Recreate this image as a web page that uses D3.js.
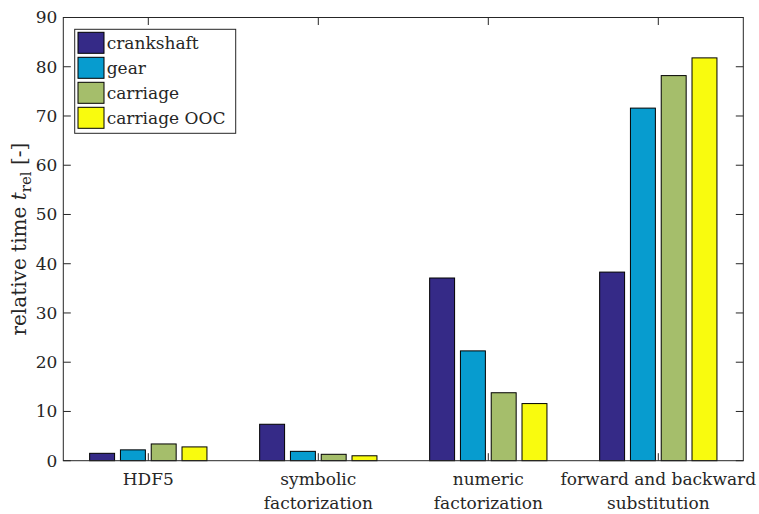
<!DOCTYPE html>
<html>
<head>
<meta charset="utf-8">
<script src="https://cdn.jsdelivr.net/npm/d3@7"></script>
<style>
  body { margin: 0; background: #fff; }
  text { font-family: "DejaVu Serif", serif; fill: #262626; }
</style>
</head>
<body>
<div id="chart"></div>
<script>
// categories (each label split into lines)
const categories = [
    ["HDF5"],
    ["symbolic", "factorization"],
    ["numeric", "factorization"],
    ["forward and backward", "substitution"]
]
const seriesNames = ["crankshaft", "gear", "carriage", "carriage OOC"]
const seriesColors = ["#352a87", "#079ccf", "#a5be6b", "#f9fb0e"]

// relative time per series, one value per category
const crankshaft = [1.5, 7.4, 37.1, 38.3]
const gear = [2.2, 1.9, 22.3, 71.6]
const carriage = [3.4, 1.3, 13.8, 78.2]
const carriageOOC = [2.8, 1.0, 11.6, 81.8]

const yTicks = [0, 10, 20, 30, 40, 50, 60, 70, 80, 90]

const seriesValues = [crankshaft, gear, carriage, carriageOOC]

const width = 759, height = 514
const margin = {left: 63.3, right: 15.7, top: 17.5, bottom: 53.3}
const axisColor = "#262626"
const tickLen = 7.5
const fontSize = 17

const svg = d3.select("#chart").append("svg")
    .attr("width", width)
    .attr("height", height)

const x = d3.scaleLinear()
    .domain([0.5, categories.length + 0.5])
    .range([margin.left, width - margin.right])

// offsets of the bars inside a group, in category units
const inner = d3.scaleBand()
    .domain(seriesNames)
    .range([-0.345, 0.345])
    .paddingInner(0.19)

const y = d3.scaleLinear()
    .domain([0, 90])
    .range([height - margin.bottom, margin.top])

const x0 = x.range()[0], x1 = x.range()[1]
const y0 = y.range()[0], y1 = y.range()[1]

// bars
const barData = []
seriesValues.forEach((vals, s) => {
    vals.forEach((v, c) => barData.push({series: s, cat: c, value: v}))
})

svg.append("g")
    .selectAll("rect")
    .data(barData)
    .enter()
    .append("rect")
    .attr("x", d => x(d.cat + 1 + inner(seriesNames[d.series])))
    .attr("width", d => x(inner.bandwidth()) - x(0))
    .attr("y", d => y(d.value))
    .attr("height", d => y(0) - y(d.value))
    .attr("fill", d => seriesColors[d.series])
    .attr("stroke", "#000")
    .attr("stroke-width", 1)

// box
svg.append("rect")
    .attr("x", x0).attr("y", y1)
    .attr("width", x1 - x0).attr("height", y0 - y1)
    .attr("fill", "none")
    .attr("stroke", axisColor)
    .attr("stroke-width", 1)

// y ticks both sides, inward
const yt = svg.append("g")
yt.selectAll("line.l")
    .data(yTicks)
    .enter().append("line")
    .attr("x1", x0).attr("x2", x0 + tickLen)
    .attr("y1", d => y(d)).attr("y2", d => y(d))
    .attr("stroke", axisColor)
yt.selectAll("line.r")
    .data(yTicks)
    .enter().append("line")
    .attr("x1", x1).attr("x2", x1 - tickLen)
    .attr("y1", d => y(d)).attr("y2", d => y(d))
    .attr("stroke", axisColor)
yt.selectAll("text")
    .data(yTicks)
    .enter().append("text")
    .attr("x", x0 - 6)
    .attr("y", d => y(d))
    .attr("dy", "0.35em")
    .attr("text-anchor", "end")
    .attr("font-size", fontSize)
    .text(d => d)

// x ticks top and bottom, inward
const xt = svg.append("g")
const catIdx = categories.map((c, i) => i + 1)
xt.selectAll("line.b")
    .data(catIdx)
    .enter().append("line")
    .attr("x1", d => x(d)).attr("x2", d => x(d))
    .attr("y1", y0).attr("y2", y0 - tickLen)
    .attr("stroke", axisColor)
xt.selectAll("line.t")
    .data(catIdx)
    .enter().append("line")
    .attr("x1", d => x(d)).attr("x2", d => x(d))
    .attr("y1", y1).attr("y2", y1 + tickLen)
    .attr("stroke", axisColor)

const xl = xt.selectAll("text")
    .data(categories)
    .enter().append("text")
    .attr("x", (d, i) => x(i + 1))
    .attr("y", y0 + 24)
    .attr("text-anchor", "middle")
    .attr("font-size", fontSize)
xl.selectAll("tspan")
    .data(d => d)
    .enter().append("tspan")
    .attr("x", function() { return d3.select(this.parentNode).attr("x") })
    .attr("dy", (d, i) => i == 0 ? 0 : 24)
    .text(d => d)

// y label
const ylab = svg.append("text")
    .attr("transform", `translate(26, ${(y0 + y1) / 2}) rotate(-90)`)
    .attr("text-anchor", "middle")
    .attr("font-size", 20)
ylab.append("tspan").text("relative time ")
ylab.append("tspan").attr("font-style", "italic").text("t")
ylab.append("tspan").attr("font-size", 15).attr("dy", 5).text("rel")
ylab.append("tspan").attr("dy", -5).text(" [-]")

// legend
const lg = svg.append("g").attr("transform", "translate(74.7, 29.3)")
lg.append("rect")
    .attr("width", 161).attr("height", 104)
    .attr("fill", "#fff")
    .attr("stroke", axisColor)
const rows = lg.selectAll("g.row")
    .data(seriesNames)
    .enter().append("g")
    .attr("transform", (d, i) => `translate(0, ${13.5 + i * 25})`)
rows.append("rect")
    .attr("x", 3.3).attr("y", -10.5)
    .attr("width", 26).attr("height", 21)
    .attr("fill", (d, i) => seriesColors[i])
    .attr("stroke", "#000")
rows.append("text")
    .attr("x", 32)
    .attr("dy", "0.35em")
    .attr("font-size", fontSize)
    .text(d => d)
</script>
</body>
</html>
